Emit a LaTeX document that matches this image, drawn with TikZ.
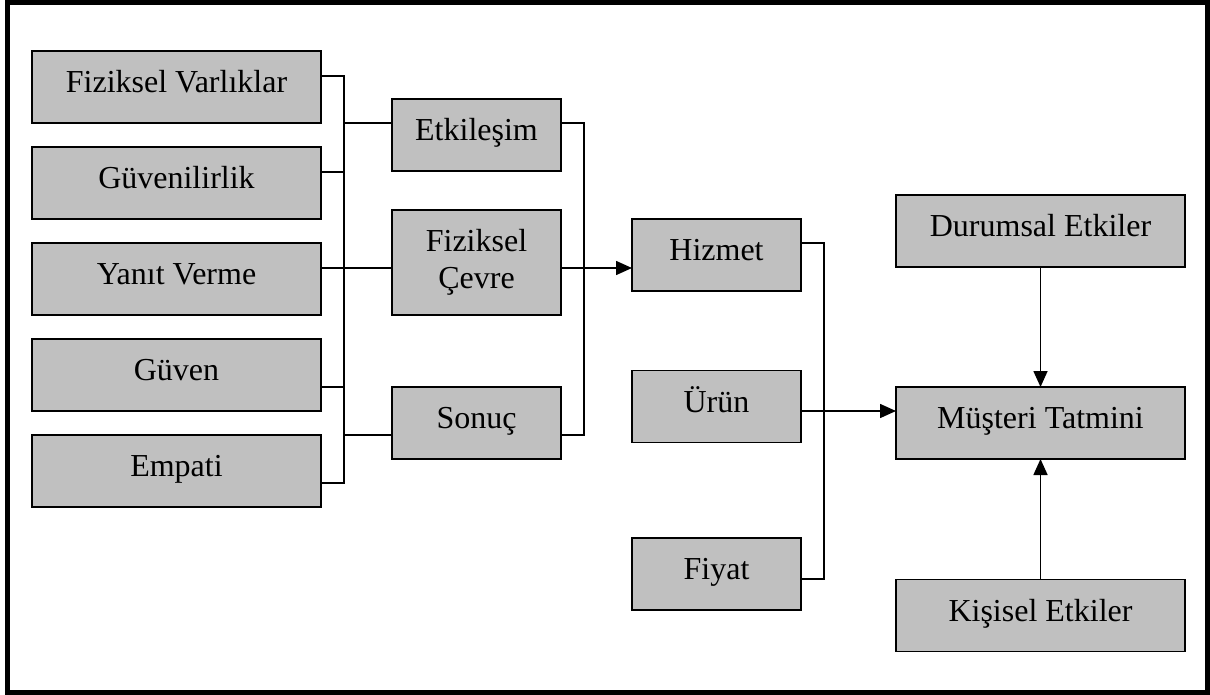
\documentclass[tikz,border=0pt]{standalone}
\usepackage{fontspec}
\setmainfont{Liberation Serif}
\usetikzlibrary{arrows.meta, positioning}
\definecolor{boxgray}{HTML}{C0C0C0}

\begin{document}
\begin{tikzpicture}[
  x=1pt, y=-1pt,
  box/.style    = {rectangle, draw=black, fill=boxgray, line width=1.6pt, outer sep=0pt,
                   minimum width=289pt, minimum height=72pt, inner sep=0pt, align=center,
                   text height=22pt, text depth=11pt,
                   font=\fontsize{32}{37}\selectfont},
  midbox/.style = {box, minimum width=169pt},
  link/.style   = {line width=1.6pt},
  arrow/.style  = {link, -{Triangle[length=16pt,width=14pt]}},
]
  \useasboundingbox (0,0) rectangle (1210,695);
  \draw[line width=5pt] (7.5,2.5) rectangle (1207.5,692);

  % dimensions
  \node[box] (fv) at (176.5,87) {Fiziksel Varlıklar};
  \node[box, below=24pt of fv]        (guvenilir) {Güvenilirlik};
  \node[box, below=24pt of guvenilir] (yanit)     {Yanıt Verme};
  \node[box, below=24pt of yanit]     (guven)     {Güven};
  \node[box, below=24pt of guven]     (empati)    {Empati};

  % quality groups
  \node[midbox] (etk) at (476.5,135) {Etkileşim};
  \node[midbox, minimum height=105pt, text height={}, text depth={}] (cevre) at (476.5,262.5) {Fiziksel\\Çevre};
  \node[midbox] (sonuc) at (476.5,423) {Sonuç};

  % satisfaction inputs
  \node[midbox] (hizmet) at (716.5,255)   {Hizmet};
  \node[midbox] (urun)   at (716.5,406.5) {Ürün};
  \node[midbox] (fiyat)  at (716.5,574)   {Fiyat};

  \node[box] (durum)   at (1040.5,231)   {Durumsal Etkiler};
  \node[box] (musteri) at (1040.5,423)   {Müşteri Tatmini};
  \node[box] (kisisel) at (1040.5,615.5) {Kişisel Etkiler};

  % ports and buses
  \coordinate (busA) at (344,0);
  \coordinate (busB) at (584,0);
  \coordinate (busC) at (824,0);
  \coordinate (fv-out)        at ([yshift=11pt]fv.east);
  \coordinate (guvenilir-out) at ([yshift=11pt]guvenilir.east);
  \coordinate (yanit-out)     at ([yshift=11pt]yanit.east);
  \coordinate (guven-out)     at ([yshift=-12pt]guven.east);
  \coordinate (empati-out)    at ([yshift=-12pt]empati.east);
  \coordinate (etk-in)        at ([yshift=12pt]etk.west);
  \coordinate (sonuc-in)      at ([yshift=-12pt]sonuc.west);
  \coordinate (etk-out)       at ([yshift=12pt]etk.east);
  \coordinate (sonuc-out)     at ([yshift=-12pt]sonuc.east);
  \coordinate (hizmet-out)    at ([yshift=12pt]hizmet.east);
  \coordinate (urun-out)      at ([yshift=-4.5pt]urun.east);
  \coordinate (fiyat-out)     at ([yshift=-5pt]fiyat.east);

  \draw[link] (fv-out) -| (busA |- empati-out) -- (empati-out);
  \draw[link] (guvenilir-out) -- (guvenilir-out -| busA);
  \draw[link] (guven-out) -- (guven-out -| busA);
  \draw[link] (busA |- etk-in) -- (etk-in);
  \draw[link] (busA |- sonuc-in) -- (sonuc-in);
  \draw[link] (yanit-out) -- (yanit-out -| cevre.west);

  \draw[link] (etk-out) -| (busB |- sonuc-out) -- (sonuc-out);
  \draw[arrow] (yanit-out -| cevre.east) -- (yanit-out -| hizmet.west);

  \draw[link] (hizmet-out) -| (busC |- fiyat-out) -- (fiyat-out);
  \draw[arrow] (urun-out) -- (urun-out -| musteri.west);

  \draw[arrow] (durum) -- (musteri);
  \draw[arrow] (kisisel) -- (musteri);
\end{tikzpicture}
\end{document}
